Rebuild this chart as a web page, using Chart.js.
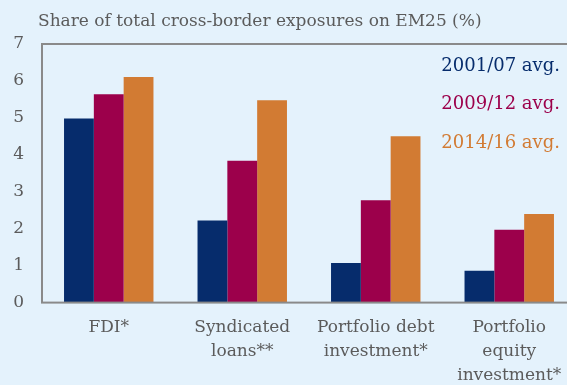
<!DOCTYPE html>
<html>
<head>
<meta charset="utf-8">
<script src="https://cdn.jsdelivr.net/npm/chart.js@4"></script>
<style>
  html, body { margin: 0; padding: 0; background: #e4f2fc; overflow: hidden; }
  #wrap { width: 576px; height: 400px; }
</style>
</head>
<body>
<div id="wrap"><canvas id="myChart" width="576" height="400"></canvas></div>
<script>
const categories = [
  "FDI*",
  ["Syndicated", "loans**"],
  ["Portfolio debt", "investment*"],
  ["Portfolio", "equity", "investment*"]
];
const seriesNames = ["2001/07 avg.", "2009/12 avg.", "2014/16 avg."];
const avg2001_07 = [4.98, 2.22, 1.07, 0.86];
const avg2009_12 = [5.64, 3.84, 2.77, 1.97];
const avg2014_16 = [6.11, 5.48, 4.5, 2.4];
const yTicks = [0, 1, 2, 3, 4, 5, 6, 7];
const titleText = "Share of total cross-border exposures on EM25 (%)";

const colors = ["#062c6c", "#9c004b", "#d27b33"];
const serif = "'DejaVu Serif', Georgia, serif";
const textGray = "#5b5b5b";

// light blue page fill behind everything
const background = {
  id: "background",
  beforeDraw(chart) {
    const ctx = chart.ctx;
    ctx.save();
    ctx.fillStyle = "#e4f2fc";
    ctx.fillRect(0, 0, chart.width, chart.height);
    ctx.restore();
  }
};

// heading sits a little left of the plot box
const heading = {
  id: "heading",
  afterDraw(chart) {
    const ctx = chart.ctx;
    ctx.save();
    ctx.font = "17px " + serif;
    ctx.fillStyle = textGray;
    ctx.textAlign = "left";
    ctx.textBaseline = "middle";
    ctx.fillText(titleText, 38, 22);
    ctx.restore();
  }
};

// grey box round the plot, drawn over the bar bottoms
const frame = {
  id: "frame",
  afterDatasetsDraw(chart) {
    const { ctx, chartArea: a } = chart;
    ctx.save();
    ctx.strokeStyle = "#8a8a8a";
    ctx.lineWidth = 2;
    ctx.strokeRect(a.left, a.top, a.right - a.left, a.bottom - a.top);
    ctx.restore();
  }
};

// text-only legend in the series colours, top right inside the plot
const textLegend = {
  id: "textLegend",
  afterDatasetsDraw(chart) {
    const { ctx, chartArea: a } = chart;
    ctx.save();
    ctx.font = "18px " + serif;
    ctx.textAlign = "right";
    ctx.textBaseline = "middle";
    chart.data.datasets.forEach((ds, i) => {
      ctx.fillStyle = ds.backgroundColor;
      ctx.fillText(ds.label, 560, a.top + 22 + i * 38.5);
    });
    ctx.restore();
  }
};

new Chart("myChart", {
  type: "bar",
  data: {
    labels: categories,
    datasets: [
      { label: seriesNames[0], data: avg2001_07, backgroundColor: colors[0] },
      { label: seriesNames[1], data: avg2009_12, backgroundColor: colors[1] },
      { label: seriesNames[2], data: avg2014_16, backgroundColor: colors[2] }
    ]
  },
  options: {
    responsive: false,
    animation: false,
    layout: { padding: { top: 44, left: 0, right: 0, bottom: 0 } },
    datasets: {
      bar: { barPercentage: 1, categoryPercentage: 0.67, borderWidth: 0 }
    },
    plugins: {
      legend: { display: false },
      tooltip: { enabled: false },
      title: { display: false }
    },
    scales: {
      x: {
        grid: { display: false, drawTicks: false },
        border: { display: false },
        ticks: {
          color: textGray,
          padding: 13,
          maxRotation: 0,
          autoSkip: false,
          font: { family: serif, size: 17, lineHeight: 1.4 }
        }
      },
      y: {
        min: 0,
        max: 7,
        afterBuildTicks(axis) {
          axis.ticks = yTicks.map((v) => ({ value: v }));
        },
        afterFit(axis) {
          axis.width = 42;
        },
        grid: { display: false, drawTicks: false },
        border: { display: false },
        ticks: {
          color: textGray,
          padding: 18,
          font: { family: serif, size: 17 }
        }
      }
    }
  },
  plugins: [background, heading, frame, textLegend]
});
</script>
</body>
</html>
